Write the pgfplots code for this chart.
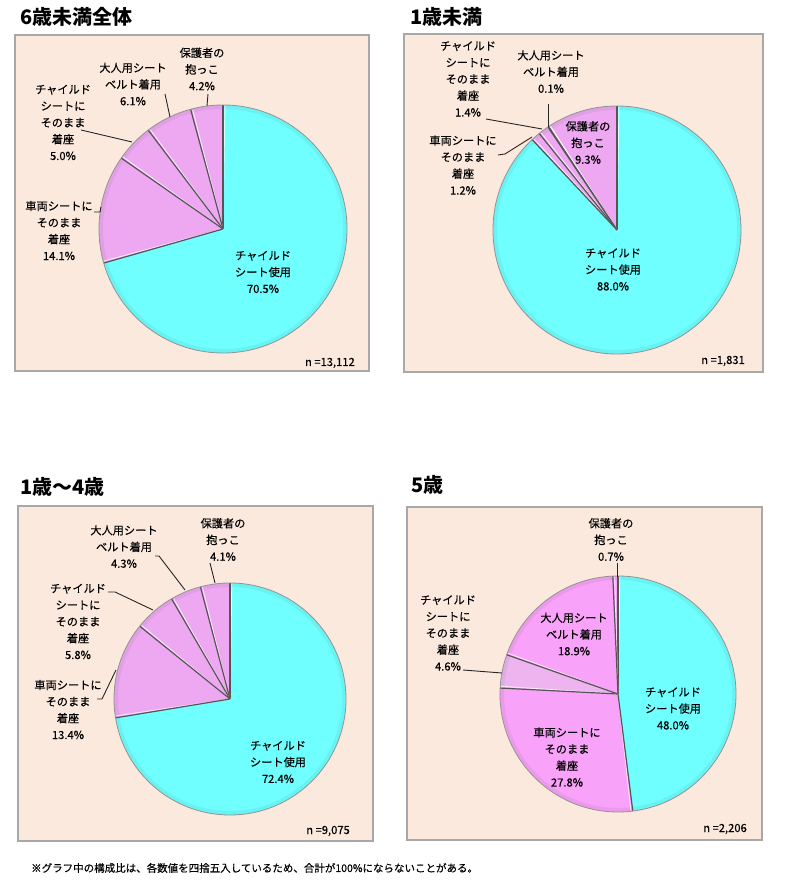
\documentclass[border=0pt]{standalone}
\usepackage{pgfplots}
\usepackage{pgfplotstable}
\pgfplotsset{compat=1.18}
\usepackage{fontspec}
\setmainfont{Noto Sans CJK JP}
\newfontfamily\lblf{Noto Sans CJK JP}[FakeBold=0.3]

\definecolor{cy}{HTML}{70FFFF}
\definecolor{pk}{HTML}{EEA8F2}
\definecolor{pkv}{HTML}{F9A2F9}
\definecolor{pkl}{HTML}{EDB4EF}
\definecolor{bgc}{HTML}{FBE9DD}
\definecolor{bdc}{HTML}{A8A8A8}
\definecolor{edgec}{HTML}{555555}

% ---- data (percent) ----
\pgfplotstableread{
v c
70.5 cy
14.1 pk
5.0 pk
6.1 pk
4.2 pk
}\tblA
\pgfplotstableread{
v c
88.0 cy
1.2 pk
1.4 pk
0.1 pk
9.3 pk
}\tblB
\pgfplotstableread{
v c
72.4 cy
13.4 pk
5.8 pk
4.3 pk
4.1 pk
}\tblC
\pgfplotstableread{
v c
48.0 cy
27.8 pkv
4.6 pkl
18.9 pkv
0.7 pkv
}\tblD

\newcommand\piecalc[2]{%
  \gdef\ptot{0}%
  \pgfplotstableforeachcolumnelement{v}\of#1\as\cellv{%
    \pgfmathsetmacro\tmp{\ptot+\cellv}\xdef\ptot{\tmp}}%
  \gdef\pcum{0}%
  \pgfplotstableforeachcolumnelement{v}\of#1\as\cellv{%
    \pgfmathsetmacro\pa{90-(\pcum/\ptot)*360}%
    \pgfmathsetmacro\pcumn{\pcum+\cellv}%
    \pgfmathsetmacro\pb{90-(\pcumn/\ptot)*360}%
    \expandafter\xdef\csname #2a\pgfplotstablerow\endcsname{\pa}%
    \expandafter\xdef\csname #2b\pgfplotstablerow\endcsname{\pb}%
    \xdef\pcum{\pcumn}%
  }%
  \pgfplotstableforeachcolumnelement{c}\of#1\as\cellc{%
    \expandafter\xdef\csname #2c\pgfplotstablerow\endcsname{\cellc}}%
}
\piecalc{\tblA}{PA}
\piecalc{\tblB}{PB}
\piecalc{\tblC}{PC}
\piecalc{\tblD}{PD}

% #1 prefix, #2 cx, #3 cy, #4 radius
\newcommand\piedraw[4]{%
  \pgfplotsinvokeforeach{0,...,4}{%
    \fill[fill=\csname #1c##1\endcsname] (axis cs:#2,#3) -- ++(\csname #1a##1\endcsname:#4bp)
      arc[start angle=\csname #1a##1\endcsname, end angle=\csname #1b##1\endcsname, radius=#4bp] -- cycle;
  }%
  \draw[black, opacity=0.05, line width=4bp] (axis cs:#2,#3) circle[radius=#4bp-2bp];
  \pgfplotsinvokeforeach{0,...,4}{%
    \draw[white, opacity=0.75, line width=0.9bp] (axis cs:#2,#3) -- ++(\csname #1a##1\endcsname-0.9:#4bp-1bp);
    \draw[edgec, line width=1.2bp] (axis cs:#2,#3) -- ++(\csname #1a##1\endcsname:#4bp);
  }%
  \draw[gray!85, line width=0.8bp] (axis cs:#2,#3) circle[radius=#4bp];
}

\tikzset{lbl/.style={align=center, inner sep=0pt, font=\fontsize{11.2bp}{16.6bp}\selectfont\lblf},
         ttl/.style={anchor=west, inner sep=0pt, font=\fontsize{20bp}{24bp}\selectfont\bfseries},
         ld/.style={black!85, line width=0.9bp}}
\pgfplotsset{panel/.style={anchor=south west, x=1bp, y=1bp, xmin=0, ymin=0, hide axis, clip=false}}

\begin{document}
\begin{tikzpicture}
\useasboundingbox (0,0) rectangle (800bp,890bp);

% ---------- panel 1 ----------
\begin{axis}[panel, at={(15bp,519bp)}, xmax=354, ymax=336]
\fill[bgc, draw=bdc, line width=1.4bp] (axis cs:0,0) rectangle (axis cs:354,336);
\piedraw{PA}{208}{142}{124}
\node[lbl] at (axis cs:248,99) {チャイルド\\シート使用\\70.5\%};
\node[lbl] at (axis cs:44,140.5) {車両シートに\\そのまま\\着座\\14.1\%};
\node[lbl] at (axis cs:48,248.5) {チャイルド\\シートに\\そのまま\\着座\\5.0\%};
\node[lbl] at (axis cs:118,287) {大人用シート\\ベルト着用\\6.1\%};
\node[lbl] at (axis cs:187,302) {保護者の\\抱っこ\\4.2\%};
\draw[ld] (axis cs:193,277) -- (axis cs:192,265);
\draw[ld] (axis cs:150,277) -- (axis cs:155,254);
\draw[ld] (axis cs:66,241) -- (axis cs:117,229);
\draw[ld] (axis cs:79,159) -- (axis cs:85,159) -- (axis cs:86,164);
\node[lbl, anchor=east] at (axis cs:340,8) {n =13,112};
\end{axis}

% ---------- panel 2 ----------
\begin{axis}[panel, at={(404bp,518bp)}, xmax=359, ymax=338]
\fill[bgc, draw=bdc, line width=1.4bp] (axis cs:0,0) rectangle (axis cs:359,338);
\piedraw{PB}{213}{142}{124}
\node[lbl] at (axis cs:209,102.5) {チャイルド\\シート使用\\88.0\%};
\node[lbl] at (axis cs:184,229.5) {保護者の\\抱っこ\\9.3\%};
\node[lbl] at (axis cs:59,207) {車両シートに\\そのまま\\着座\\1.2\%};
\node[lbl] at (axis cs:64,293) {チャイルド\\シートに\\そのまま\\着座\\1.4\%};
\node[lbl] at (axis cs:147,300.5) {大人用シート\\ベルト着用\\0.1\%};
\draw[ld] (axis cs:144,268) -- (axis cs:144,245);
\draw[ld] (axis cs:82,253) -- (axis cs:138,243);
\draw[ld] (axis cs:94,217) -- (axis cs:101,218) -- (axis cs:128,235);
\node[lbl, anchor=east] at (axis cs:341,11) {n =1,831};
\end{axis}

% ---------- panel 3 ----------
\begin{axis}[panel, at={(18bp,49bp)}, xmax=355, ymax=335]
\fill[bgc, draw=bdc, line width=1.4bp] (axis cs:0,0) rectangle (axis cs:355,335);
\piedraw{PC}{212}{142}{116}
\node[lbl] at (axis cs:260,79) {チャイルド\\シート使用\\72.4\%};
\node[lbl] at (axis cs:50,131.5) {車両シートに\\そのまま\\着座\\13.4\%};
\node[lbl] at (axis cs:60,219.5) {チャイルド\\シートに\\そのまま\\着座\\5.8\%};
\node[lbl] at (axis cs:106,294.5) {大人用シート\\ベルト着用\\4.3\%};
\node[lbl] at (axis cs:205,301.5) {保護者の\\抱っこ\\4.1\%};
\draw[ld] (axis cs:192,278) -- (axis cs:197,258);
\draw[ld] (axis cs:137,285) -- (axis cs:141,285) -- (axis cs:167,251);
\draw[ld] (axis cs:90,249) -- (axis cs:97,249) -- (axis cs:135,231);
\draw[ld] (axis cs:79,142) -- (axis cs:84,142) -- (axis cs:98,171);
\node[lbl, anchor=east] at (axis cs:332,10) {n =9,075};
\end{axis}

% ---------- panel 4 ----------
\begin{axis}[panel, at={(407bp,50bp)}, xmax=355, ymax=333]
\fill[bgc, draw=bdc, line width=1.4bp] (axis cs:0,0) rectangle (axis cs:355,333);
\piedraw{PD}{211}{146}{118}
\node[lbl] at (axis cs:266,131.5) {チャイルド\\シート使用\\48.0\%};
\node[lbl] at (axis cs:160,83) {車両シートに\\そのまま\\着座\\27.8\%};
\node[lbl] at (axis cs:41,207) {チャイルド\\シートに\\そのまま\\着座\\4.6\%};
\node[lbl] at (axis cs:167,206) {大人用シート\\ベルト着用\\18.9\%};
\node[lbl] at (axis cs:204,300.5) {保護者の\\抱っこ\\0.7\%};
\draw[ld] (axis cs:210,277) -- (axis cs:210,263);
\draw[ld] (axis cs:56,170) -- (axis cs:95,167);
\node[lbl, anchor=east] at (axis cs:340,11) {n =2,206};
\end{axis}

% ---------- titles and note ----------
\node[ttl] at (20bp,873bp) {6歳未満全体};
\node[ttl] at (410bp,873bp) {1歳未満};
\node[ttl] at (20bp,403bp) {1歳～4歳};
\node[ttl] at (411bp,405bp) {5歳};
\node[anchor=west, inner sep=0pt, font=\fontsize{10.5bp}{12bp}\selectfont\lblf] at (31bp,22bp)
  {※グラフ中の構成比は、各数値を四捨五入しているため、合計が100\%にならないことがある。};
\end{tikzpicture}
\end{document}
